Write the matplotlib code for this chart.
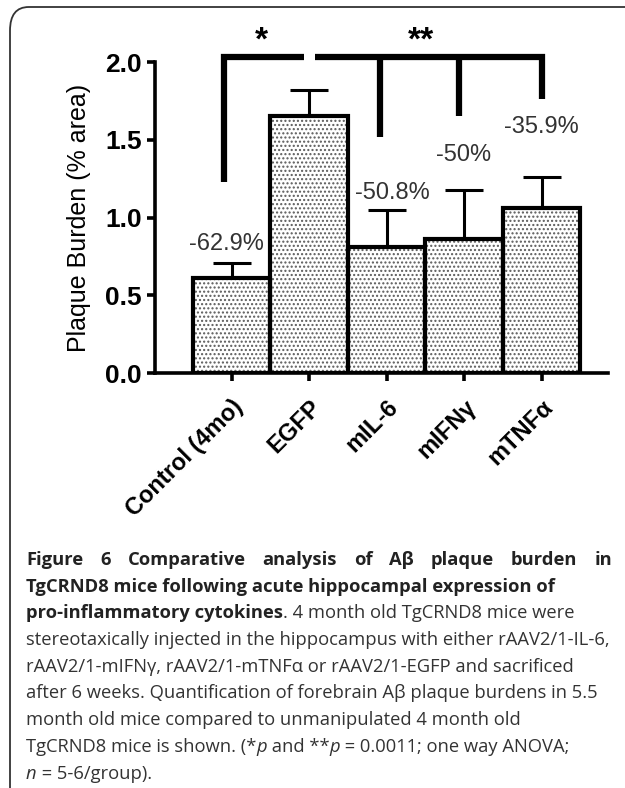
import matplotlib
matplotlib.use("Agg")
import matplotlib.pyplot as plt
from matplotlib.patches import FancyBboxPatch

plt.rcParams['font.family'] = ['Liberation Sans', 'DejaVu Sans']
plt.rcParams['hatch.linewidth'] = 1.0

# datos
grupos = ['Control (4mo)', 'EGFP', 'mIL-6', 'mIFNγ', 'mTNFα']
carga = [0.61, 1.65, 0.81, 0.86, 1.06]
error = [0.10, 0.17, 0.24, 0.32, 0.20]
etiquetas = ['-62.9%', '', '-50.8%', '-50%', '-35.9%']
etiqueta_x = [-0.07, None, 0.07, 0.0, 0.0]
etiqueta_y = [0.83, None, 1.16, 1.40, 1.58]

fig = plt.figure(figsize=(6.25, 7.88), dpi=100)
ax = fig.add_axes([0.248, 0.5266, 0.725, 0.3947])

x = list(range(len(grupos)))
ax.bar(x, carga, width=1.0, color='white', edgecolor='#5a5a5a', hatch='....', linewidth=0, zorder=2)
ax.bar(x, carga, width=1.0, fill=False, edgecolor='black', linewidth=3, zorder=3)
ax.errorbar(x, carga, yerr=[[0] * len(carga), error], fmt='none', ecolor='black',
            elinewidth=2.2, capsize=14, capthick=2.2, zorder=1)

for i, t in enumerate(etiquetas):
    if t:
        ax.text(i + etiqueta_x[i], etiqueta_y[i], t, ha='center', va='center', fontsize=17,
                color='#333333')

# corchetes de significancia
ax.plot([-0.1, -0.1, 0.94], [1.23, 2.03, 2.03], color='black', lw=4.5, clip_on=False,
        solid_joinstyle='miter', solid_capstyle='butt')
ax.plot([1.07, 4.0, 4.0], [2.03, 2.03, 1.76], color='black', lw=4.5, clip_on=False,
        solid_joinstyle='miter', solid_capstyle='butt')
ax.plot([1.92, 1.92], [2.03, 1.52], color='black', lw=4.5, clip_on=False, solid_capstyle='butt')
ax.plot([2.93, 2.93], [2.03, 1.65], color='black', lw=4.5, clip_on=False, solid_capstyle='butt')
ax.text(0.39, 2.035, '*', ha='center', va='bottom', fontsize=24, fontweight='bold', clip_on=False)
ax.text(2.45, 2.035, '**', ha='center', va='bottom', fontsize=24, fontweight='bold', clip_on=False)

ax.set_xlim(-0.99, 4.86)
ax.set_ylim(0, 2.0)
ax.set_yticks([0, 0.5, 1.0, 1.5, 2.0])
ax.set_yticklabels(['0.0', '0.5', '1.0', '1.5', '2.0'], fontsize=19, fontweight='bold')
ax.set_xticks(x)
ax.set_xticklabels(grupos, fontsize=17, fontweight='bold', rotation=45, ha='right',
                   rotation_mode='anchor')
ax.set_ylabel('Plaque Burden (% area)', fontsize=18, labelpad=10)
for s in ['top', 'right']:
    ax.spines[s].set_visible(False)
for s in ['left', 'bottom']:
    ax.spines[s].set_linewidth(2.6)
ax.tick_params(axis='both', width=2.6, length=6, direction='out')
ax.tick_params(axis='x', pad=10)

# marco redondeado
marco = FancyBboxPatch((10 / 625, -0.05), 1.2, 1 - 7 / 788 + 0.05,
                       boxstyle='round,pad=0,rounding_size=0.03', transform=fig.transFigure,
                       fill=False, edgecolor='#333333', linewidth=1.3)
fig.add_artist(marco)

# pie de figura
lineas = [
    [('Figure 6 Comparative analysis of Aβ plaque burden in', 'bold', 'normal')],
    [('TgCRND8 mice following acute hippocampal expression of', 'bold', 'normal')],
    [('pro-inflammatory cytokines', 'bold', 'normal'), ('. 4 month old TgCRND8 mice were', 'normal', 'normal')],
    [('stereotaxically injected in the hippocampus with either rAAV2/1-IL-6,', 'normal', 'normal')],
    [('rAAV2/1-mIFNγ, rAAV2/1-mTNFα or rAAV2/1-EGFP and sacrificed', 'normal', 'normal')],
    [('after 6 weeks. Quantification of forebrain Aβ plaque burdens in 5.5', 'normal', 'normal')],
    [('month old mice compared to unmanipulated 4 month old', 'normal', 'normal')],
    [('TgCRND8 mice is shown. (*', 'normal', 'normal'), ('p', 'normal', 'italic'),
     (' and **', 'normal', 'normal'), ('p', 'normal', 'italic'),
     (' = 0.0011; one way ANOVA;', 'normal', 'normal')],
    [('n', 'normal', 'italic'), (' = 5-6/group).', 'normal', 'normal')],
]
fuente = ['Open Sans', 'DejaVu Sans']
tam = 13.2
x0, x1 = 26, 612
y0, paso = 560, 26.7
r = fig.canvas.get_renderer()

for k, linea in enumerate(lineas):
    ypix = 788 - (y0 + k * paso)
    if k == 0:
        palabras = linea[0][0].split(' ')
        objs = [fig.text(0, ypix / 788, w, fontsize=tam, fontweight='bold', family=fuente,
                         color='#222222', va='center') for w in palabras]
        anchos = [o.get_window_extent(r).width for o in objs]
        hueco = (x1 - x0 - sum(anchos)) / (len(palabras) - 1)
        xp = x0
        for o, a in zip(objs, anchos):
            o.set_x(xp / 625)
            xp += a + hueco
        continue
    xp = x0
    for texto, peso, estilo in linea:
        o = fig.text(xp / 625, ypix / 788, texto, fontsize=tam, fontweight=peso, style=estilo,
                     family=fuente, color='#222222' if peso == 'bold' else '#333333', va='center')
        xp += o.get_window_extent(r).width

fig.savefig('out.png', dpi=100)
